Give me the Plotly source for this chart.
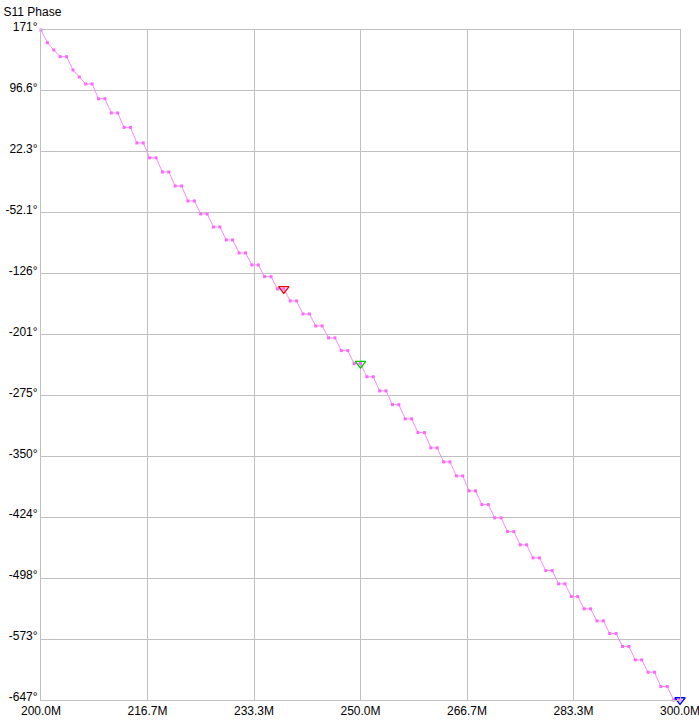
import plotly.graph_objects as go

freq_mhz = list(range(200, 301))
phase_deg = [
    171.0, 155.5, 146.6, 138.4, 138.4, 122.2, 113.6, 105.1, 105.1, 87.1,
    87.1, 69.7, 69.7, 52.1, 52.1, 33.1, 33.1, 14.9, 14.9, -2.3,
    -2.3, -19.4, -19.4, -37.7, -37.7, -53.6, -53.6, -69.5, -69.5, -85.3,
    -85.3, -101.2, -101.2, -115.8, -115.8, -130.1, -130.1, -145.1, -145.1, -159.8,
    -159.8, -175.7, -175.7, -190.3, -190.3, -204.9, -204.9, -220.4, -220.4, -236.3,
    -236.3, -252.4, -252.4, -269.6, -269.6, -286.4, -286.4, -303.8, -303.8, -320.5,
    -320.5, -339.2, -339.2, -356.3, -356.3, -373.4, -373.4, -391.7, -391.7, -408.4,
    -408.4, -424.6, -424.6, -441.4, -441.4, -457.6, -457.6, -473.5, -473.5, -489.0,
    -489.0, -505.2, -505.2, -520.7, -520.7, -535.7, -535.7, -550.4, -550.4, -565.9,
    -565.9, -581.7, -581.7, -598.0, -598.0, -613.1, -613.1, -630.6, -630.6, -647.0,
    -647.0,
]

marker_idx = [38, 50, 100]
marker_colors = ["#ff0000", "#00cc00", "#0000ff"]

x_tickvals = [200.0, 216.667, 233.333, 250.0, 266.667, 283.333, 300.0]
x_ticktext = ["200.0M", "216.7M", "233.3M", "250.0M", "266.7M", "283.3M", "300.0M"]
y_ticktext = ["171°", "96.6°", "22.3°", "-52.1°", "-126°", "-201°", "-275°",
              "-350°", "-424°", "-498°", "-573°", "-647°"]
y_top, y_bottom = 171.0, -647.0
y_tickvals = [y_top - i * (y_top - y_bottom) / 11 for i in range(12)]

fig = go.Figure()
fig.add_trace(go.Scatter(
    x=freq_mhz, y=phase_deg, mode="lines+markers",
    line=dict(color="#ff88ff", width=1),
    marker=dict(symbol="square", size=3, color="#ff66ff"),
    hoverinfo="skip", showlegend=False, cliponaxis=False,
))
fig.add_trace(go.Scatter(
    x=[freq_mhz[i] for i in marker_idx],
    y=[phase_deg[i] for i in marker_idx],
    mode="markers",
    marker=dict(symbol="triangle-down-open", size=9,
                color=marker_colors, line=dict(width=1.3, color=marker_colors)),
    hoverinfo="skip", showlegend=False, cliponaxis=False,
))

font = dict(family="Liberation Sans, DejaVu Sans, sans-serif", size=12, color="#000000")
fig.update_layout(
    width=699, height=721,
    margin=dict(l=41, r=19, t=30, b=21, autoexpand=False),
    paper_bgcolor="#ffffff", plot_bgcolor="#ffffff",
    font=font,
    hovermode=False,
    title=dict(text="S11 Phase", x=0.005, xanchor="left", y=0.984, yanchor="middle",
               font=font),
    xaxis=dict(range=[200, 300], tickvals=x_tickvals, ticktext=x_ticktext,
               showgrid=True, gridcolor="#c0c0c0", gridwidth=1,
               showline=True, linecolor="#c0c0c0", mirror=True, automargin=False,
               zeroline=False, ticks="", ticklen=0, tickfont=font, ticklabelstandoff=0,
               ticklabeloverflow="allow"),
    yaxis=dict(range=[y_bottom, y_top], tickvals=y_tickvals, ticktext=y_ticktext,
               showgrid=True, gridcolor="#c0c0c0", gridwidth=1,
               showline=True, linecolor="#c0c0c0", mirror=True, automargin=False,
               zeroline=False, ticks="", ticklen=0, tickfont=font, ticklabelshift=-3,
               ticklabeloverflow="allow"),
)

fig.write_html(
    "out.html",
    config={"displayModeBar": False, "staticPlot": True},
    post_script="document.body.style.margin='0';document.body.style.overflow='hidden';",
)
